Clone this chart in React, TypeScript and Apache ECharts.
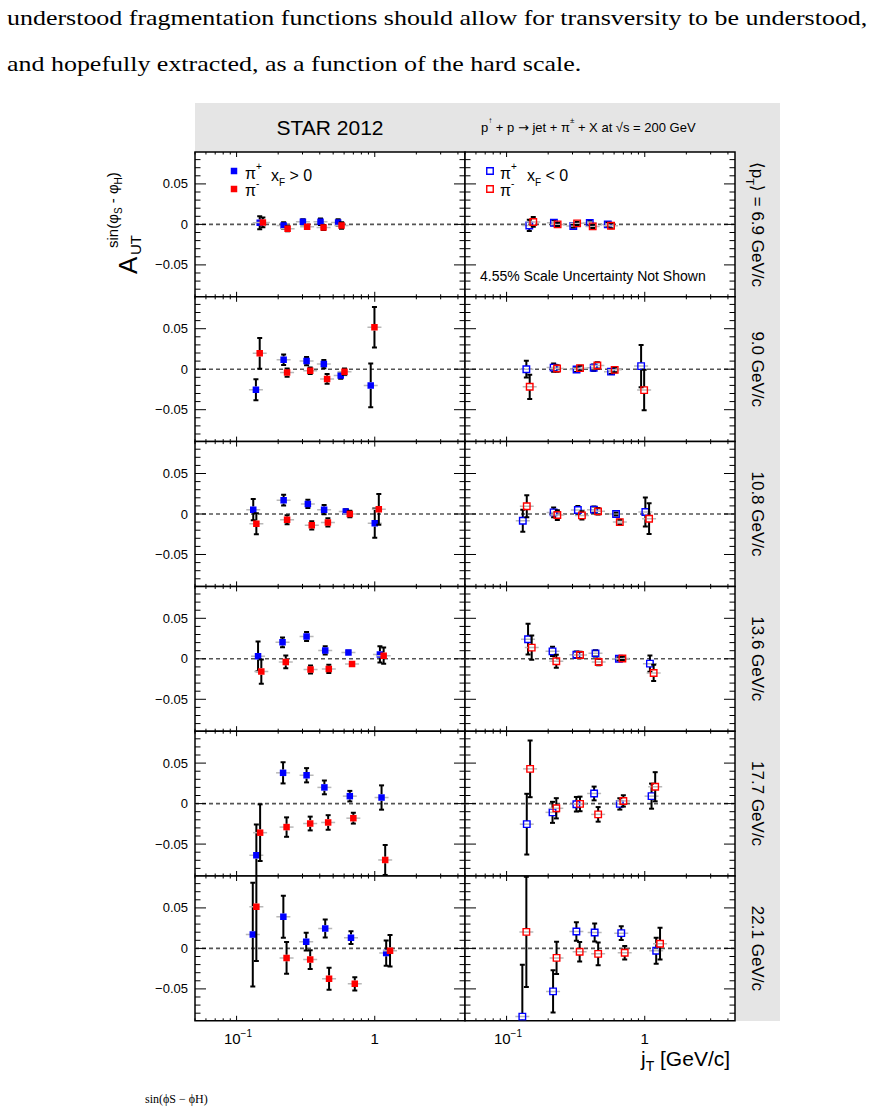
import React, { useEffect, useRef } from "react";
import * as echarts from "echarts";

// ---------------- data: [jT (GeV/c), A_UT, stat. error] ----------------
// <pT> = 6.9 GeV/c
const pos69Plus = [[0.147, 0.002, 0.008], [0.219, -0.0013, 0.004], [0.302, 0.0033, 0.003], [0.405, 0.0033, 0.004], [0.543, 0.0025, 0.004]];
const pos69Minus = [[0.155, 0.0025, 0.006], [0.234, -0.0054, 0.003], [0.324, -0.003, 0.002], [0.426, -0.0038, 0.003], [0.575, -0.0013, 0.004]];
const neg69Plus = [[0.146, -0.0013, 0.007], [0.22, 0.002, 0.003], [0.304, -0.002, 0.002], [0.4, 0.0017, 0.003], [0.54, 0.0, 0.003]];
const neg69Minus = [[0.156, 0.003, 0.006], [0.234, 0.0, 0.002], [0.324, 0.0013, 0.002], [0.42, -0.0025, 0.002], [0.57, -0.0017, 0.003]];
// <pT> = 9.0 GeV/c
const pos90Plus = [[0.138, -0.0254, 0.013], [0.219, 0.0117, 0.0065], [0.321, 0.01, 0.005], [0.428, 0.0063, 0.005], [0.567, -0.0079, 0.004], [0.935, -0.02, 0.027]];
const pos90Minus = [[0.147, 0.0196, 0.019], [0.232, -0.0042, 0.005], [0.341, -0.002, 0.004], [0.452, -0.012, 0.006], [0.604, -0.003, 0.004], [0.995, 0.0517, 0.025]];
const neg90Plus = [[0.139, 0.0, 0.0104], [0.219, 0.002, 0.005], [0.321, -0.0004, 0.003], [0.427, 0.0017, 0.004], [0.57, -0.003, 0.003], [0.941, 0.0038, 0.026]];
const neg90Minus = [[0.147, -0.0217, 0.015], [0.232, 0.0008, 0.004], [0.34, 0.0013, 0.003], [0.454, 0.0046, 0.004], [0.606, -0.0008, 0.003], [0.99, -0.0258, 0.025]];
// <pT> = 10.8 GeV/c
const pos108Plus = [[0.132, 0.0054, 0.013], [0.219, 0.0171, 0.0067], [0.328, 0.0125, 0.005], [0.43, 0.0054, 0.0056], [0.617, 0.003, 0.003], [1.0, -0.0113, 0.018]];
const pos108Minus = [[0.139, -0.012, 0.013], [0.232, -0.007, 0.0056], [0.35, -0.014, 0.005], [0.458, -0.0104, 0.005], [0.66, 0.0, 0.004], [1.07, 0.0058, 0.019]];
const neg108Plus = [[0.131, -0.0083, 0.0135], [0.219, 0.002, 0.006], [0.328, 0.005, 0.005], [0.429, 0.0054, 0.004], [0.62, 0.0, 0.002], [1.01, 0.0025, 0.018]];
const neg108Minus = [[0.14, 0.0096, 0.0135], [0.233, -0.0013, 0.006], [0.351, -0.0017, 0.005], [0.459, 0.0033, 0.004], [0.66, -0.01, 0.003], [1.075, -0.0058, 0.019]];
// <pT> = 13.6 GeV/c
const pos136Plus = [[0.143, 0.003, 0.0185], [0.215, 0.0204, 0.006], [0.321, 0.0275, 0.0055], [0.438, 0.0104, 0.005], [0.645, 0.0079, 0.002], [1.09, 0.0054, 0.01]];
const pos136Minus = [[0.151, -0.0158, 0.015], [0.227, -0.0038, 0.008], [0.343, -0.0133, 0.005], [0.465, -0.0125, 0.005], [0.685, -0.0063, 0.002], [1.16, 0.0038, 0.01]];
const neg136Plus = [[0.143, 0.0242, 0.019], [0.215, 0.0092, 0.0056], [0.32, 0.005, 0.004], [0.44, 0.0067, 0.004], [0.65, 0.0, 0.002], [1.09, -0.006, 0.01]];
const neg136Minus = [[0.152, 0.0138, 0.015], [0.229, -0.003, 0.008], [0.34, 0.0046, 0.004], [0.464, -0.004, 0.004], [0.689, 0.0004, 0.002], [1.16, -0.0175, 0.01]];
// <pT> = 17.7 GeV/c
const pos177Plus = [[0.139, -0.0638, 0.038], [0.217, 0.038, 0.0131], [0.321, 0.035, 0.0088], [0.432, 0.02, 0.0085], [0.66, 0.0092, 0.0065], [1.12, 0.0075, 0.015]];
const pos177Minus = [[0.148, -0.0359, 0.035], [0.23, -0.029, 0.012], [0.341, -0.0246, 0.0085], [0.46, -0.0233, 0.009], [0.7, -0.018, 0.0067], [1.19, -0.0696, 0.0185]];
const neg177Plus = [[0.14, -0.0254, 0.0375], [0.215, -0.0108, 0.013], [0.32, -0.0008, 0.009], [0.43, 0.0125, 0.0085], [0.66, -0.0004, 0.007], [1.12, 0.0092, 0.0155]];
const neg177Minus = [[0.148, 0.0429, 0.035], [0.229, -0.0058, 0.0125], [0.34, -0.0004, 0.009], [0.46, -0.0133, 0.009], [0.7, 0.0033, 0.007], [1.19, 0.0208, 0.018]];
// <pT> = 22.1 GeV/c
const pos221Plus = [[0.131, 0.0171, 0.064], [0.218, 0.039, 0.026], [0.319, 0.0083, 0.011], [0.438, 0.0246, 0.011], [0.673, 0.0133, 0.008], [1.21, -0.0058, 0.0155]];
const pos221Minus = [[0.139, 0.0513, 0.067], [0.23, -0.0117, 0.0196], [0.341, -0.0138, 0.0115], [0.467, -0.0375, 0.0135], [0.717, -0.0438, 0.0083], [1.29, -0.0029, 0.0195]];
const neg221Plus = [[0.13, -0.0842, 0.064], [0.217, -0.0531, 0.026], [0.32, 0.0208, 0.0115], [0.434, 0.0196, 0.011], [0.676, 0.0188, 0.0085], [1.21, -0.0029, 0.016]];
const neg221Minus = [[0.139, 0.0204, 0.068], [0.23, -0.0117, 0.0198], [0.338, -0.0042, 0.012], [0.46, -0.0067, 0.014], [0.716, -0.0054, 0.0083], [1.29, 0.0058, 0.0196]];

const ptBins = ["6.9", "9.0", "10.8", "13.6", "17.7", "22.1"];

// ---------------- ticks ----------------
const yMajorTicks = [-0.05, 0, 0.05];
const yTickLabels = ["\u22120.05", "0", "0.05"];
const yMinorTicks = [-0.08, -0.07, -0.06, -0.04, -0.03, -0.02, -0.01, 0.01, 0.02, 0.03, 0.04, 0.06, 0.07, 0.08];
const xMajorTicks = [0.1, 1];
const xTickBases = ["10", "1"];
const xTickExps = ["\u22121", ""];
const xMinorTicks = [0.05, 0.06, 0.07, 0.08, 0.09, 0.2, 0.3, 0.4, 0.5, 0.6, 0.7, 0.8, 0.9, 2, 3, 4];

const X_MIN = 0.05;
const X_MAX = 4.5;
const Y_MIN = -0.0894;
const Y_MAX = 0.0894;

const rows = [
  { pos: [pos69Plus, pos69Minus], neg: [neg69Plus, neg69Minus] },
  { pos: [pos90Plus, pos90Minus], neg: [neg90Plus, neg90Minus] },
  { pos: [pos108Plus, pos108Minus], neg: [neg108Plus, neg108Minus] },
  { pos: [pos136Plus, pos136Minus], neg: [neg136Plus, neg136Minus] },
  { pos: [pos177Plus, pos177Minus], neg: [neg177Plus, neg177Minus] },
  { pos: [pos221Plus, pos221Minus], neg: [neg221Plus, neg221Minus] },
];

// ---------------- style ----------------
const SANS = '"Liberation Sans", Arial, Helvetica, sans-serif';
const SERIF = '"Liberation Serif", "Times New Roman", serif';
const BLUE = "#0000ff";
const RED = "#ff0000";
const MS = 6.5;
const XERR_PX = 7;
const CAP = 2.5;
const GRID_LEFT = [195, 465];
const GRID_W = 270;
const GRID_TOP0 = 152;
const GRID_H = 144.8;

function pointRender(color: string, open: boolean) {
  return (params: any, api: any) => {
    const x = api.value(0);
    const y = api.value(1);
    const e = api.value(2);
    const c = api.coord([x, y]);
    const cx = c[0];
    const cy = c[1];
    const yt = api.coord([x, y + e])[1];
    const yb = api.coord([x, y - e])[1];
    const h = MS / 2;
    const es = { stroke: "#000", lineWidth: 2 };
    const ch: any[] = [];
    ch.push({ type: "line", shape: { x1: cx - XERR_PX, y1: cy, x2: cx + XERR_PX, y2: cy }, style: { stroke: "#b8b8b8", lineWidth: 1.5 } });
    if (yt < cy - h) ch.push({ type: "line", shape: { x1: cx, y1: yt, x2: cx, y2: cy - h }, style: es });
    if (yb > cy + h) ch.push({ type: "line", shape: { x1: cx, y1: cy + h, x2: cx, y2: yb }, style: es });
    ch.push({ type: "line", shape: { x1: cx - CAP, y1: yt, x2: cx + CAP, y2: yt }, style: es });
    ch.push({ type: "line", shape: { x1: cx - CAP, y1: yb, x2: cx + CAP, y2: yb }, style: es });
    ch.push({
      type: "rect",
      shape: { x: cx - h, y: cy - h, width: MS, height: MS },
      style: open ? { fill: "none", stroke: color, lineWidth: 1.4 } : { fill: color },
    });
    return { type: "group", children: ch };
  };
}

function frameRender(showY: boolean, showX: boolean) {
  return (params: any, api: any) => {
    const cs = params.coordSys;
    const x0 = cs.x;
    const x1 = cs.x + cs.width;
    const y0 = cs.y;
    const y1 = cs.y + cs.height;
    const ch: any[] = [];
    const ts = { stroke: "#000", lineWidth: 1 };
    const ln = (a: number, b: number, c: number, d: number) =>
      ch.push({ type: "line", shape: { x1: a, y1: b, x2: c, y2: d }, style: ts });
    const yz = api.coord([1, 0])[1];
    ch.push({ type: "line", shape: { x1: x0, y1: yz, x2: x1, y2: yz }, style: { stroke: "#555", lineWidth: 1.6, lineDash: [4, 3] } });
    yMajorTicks.forEach((v) => {
      const y = api.coord([1, v])[1];
      ln(x0, y, x0 + 11, y);
      ln(x1, y, x1 - 11, y);
    });
    yMinorTicks.forEach((v) => {
      const y = api.coord([1, v])[1];
      ln(x0, y, x0 + 5.5, y);
      ln(x1, y, x1 - 5.5, y);
    });
    xMajorTicks.forEach((v) => {
      const x = api.coord([v, 0])[0];
      ln(x, y1, x, y1 - 5);
      ln(x, y0, x, y0 + 5);
    });
    xMinorTicks.forEach((v) => {
      const x = api.coord([v, 0])[0];
      ln(x, y1, x, y1 - 2.5);
      ln(x, y0, x, y0 + 2.5);
    });
    if (showY) {
      yMajorTicks.forEach((v, i) => {
        const y = api.coord([1, v])[1];
        ch.push({
          type: "text",
          x: x0 - 7,
          y,
          style: { text: yTickLabels[i], font: `13px ${SANS}`, fill: "#000", align: "right", verticalAlign: "middle", textAlign: "right", textVerticalAlign: "middle" },
        });
      });
    }
    if (showX) {
      xMajorTicks.forEach((v, i) => {
        const x = api.coord([v, 0])[0];
        if (xTickExps[i]) {
          ch.push({
            type: "text", x: x + 4, y: y1 + 18,
            style: { text: xTickBases[i], font: `15px ${SANS}`, fill: "#000", align: "right", verticalAlign: "middle", textAlign: "right", textVerticalAlign: "middle" },
          });
          ch.push({
            type: "text", x: x + 4, y: y1 + 13,
            style: { text: xTickExps[i], font: `10px ${SANS}`, fill: "#000", align: "left", verticalAlign: "middle", textAlign: "left", textVerticalAlign: "middle" },
          });
        } else {
          ch.push({
            type: "text", x, y: y1 + 18,
            style: { text: xTickBases[i], font: `15px ${SANS}`, fill: "#000", align: "center", verticalAlign: "middle", textAlign: "center", textVerticalAlign: "middle" },
          });
        }
      });
    }
    return { type: "group", children: ch };
  };
}

function richSans(size: number) {
  return {
    n: { fontSize: size, fontFamily: SANS, lineHeight: size + 8, fill: "#000" },
    sup: { fontSize: Math.round(size * 0.65), fontFamily: SANS, verticalAlign: "top", fill: "#000" },
    sub: { fontSize: Math.round(size * 0.65), fontFamily: SANS, verticalAlign: "bottom", fill: "#000" },
  };
}

export default function App() {
  const ref = useRef<HTMLDivElement>(null);
  useEffect(() => {
    if (!ref.current) return;
    const chart = echarts.init(ref.current, null, { renderer: "svg" });
    const grids: any[] = [];
    const xAxes: any[] = [];
    const yAxes: any[] = [];
    const series: any[] = [];
    rows.forEach((row, r) => {
      [0, 1].forEach((c) => {
        const idx = r * 2 + c;
        grids.push({
          left: GRID_LEFT[c], top: GRID_TOP0 + r * GRID_H, width: GRID_W, height: GRID_H,
          show: true, backgroundColor: "#fff", borderColor: "#000", borderWidth: 1.5,
        });
        xAxes.push({ type: "log", logBase: 10, min: X_MIN, max: X_MAX, gridIndex: idx, show: false });
        yAxes.push({ type: "value", min: Y_MIN, max: Y_MAX, gridIndex: idx, show: false });
        series.push({
          type: "custom", xAxisIndex: idx, yAxisIndex: idx, data: [[1, 0]], z: 1, silent: true, clip: false,
          renderItem: frameRender(c === 0, r === rows.length - 1),
        });
        const sets = c === 0 ? row.pos : row.neg;
        sets.forEach((d, k) => {
          series.push({
            type: "custom", xAxisIndex: idx, yAxisIndex: idx, data: d, z: 2 + k, silent: true, clip: true,
            renderItem: pointRender(k === 0 ? BLUE : RED, c === 1),
          });
        });
      });
    });

    const graphics: any[] = [];
    // gray background
    graphics.push({ type: "rect", z: -100, shape: { x: 195, y: 103, width: 585, height: 918 }, style: { fill: "#e5e5e5" } });
    // prose text
    graphics.push({ type: "text", x: 7, y: 18, scaleX: 1.18, style: { text: "understood fragmentation functions should allow for transversity to be understood,", font: `22px ${SERIF}`, fill: "#000", verticalAlign: "middle", textVerticalAlign: "middle" } });
    graphics.push({ type: "text", x: 7, y: 64, scaleX: 1.18, style: { text: "and hopefully extracted, as a function of the hard scale.", font: `22px ${SERIF}`, fill: "#000", verticalAlign: "middle", textVerticalAlign: "middle" } });
    graphics.push({ type: "text", x: 145, y: 1093, style: { text: "sin(\u03d5S \u2212 \u03d5H)", font: `12px ${SERIF}`, fill: "#000", verticalAlign: "top", textVerticalAlign: "top" } });
    // headers
    graphics.push({ type: "text", x: 330, y: 127, style: { text: "STAR 2012", font: `21px ${SANS}`, fill: "#000", align: "center", verticalAlign: "middle", textAlign: "center", textVerticalAlign: "middle" } });
    graphics.push({
      type: "text", x: 481, y: 127,
      style: {
        text: "{n|p}{sup|\u2191}{n| + p }{a|\u2192}{n| jet + \u03c0}{sup|\u00b1}{n| + X at \u221as = 200 GeV}",
        rich: { ...richSans(13), a: { fontSize: 13, fontFamily: '"DejaVu Sans", sans-serif', lineHeight: 21, fill: "#000" } },
        verticalAlign: "middle", textVerticalAlign: "middle",
      },
    });
    // right strip labels
    ptBins.forEach((p, r) => {
      const txt = r === 0 ? `{n|\u27e8p}{sub|T}{n|\u27e9 = ${p} GeV/c}` : `{n|${p} GeV/c}`;
      graphics.push({
        type: "text", x: 757, y: GRID_TOP0 + (r + 0.5) * GRID_H, rotation: -Math.PI / 2,
        style: { text: txt, rich: richSans(17), align: "center", verticalAlign: "middle", textAlign: "center", textVerticalAlign: "middle" },
      });
    });
    // legends
    const leg = (x: number, y: number, color: string, open: boolean) =>
      graphics.push({
        type: "rect", shape: { x: x - MS / 2, y: y - MS / 2, width: MS, height: MS },
        style: open ? { fill: "none", stroke: color, lineWidth: 1.4 } : { fill: color },
      });
    leg(234, 171, BLUE, false);
    leg(234, 189, RED, false);
    leg(490, 171, BLUE, true);
    leg(490, 189, RED, true);
    const legTxt = (x: number, y: number, t: string) =>
      graphics.push({ type: "text", x, y, style: { text: t, rich: richSans(16), verticalAlign: "middle", textVerticalAlign: "middle" } });
    legTxt(245, 173, "{n|\u03c0}{sup|+}");
    legTxt(245, 190, "{n|\u03c0}{sup|-}");
    legTxt(271, 175, "{n|x}{sub|F}{n| > 0}");
    legTxt(500, 173, "{n|\u03c0}{sup|+}");
    legTxt(500, 190, "{n|\u03c0}{sup|-}");
    legTxt(527, 175, "{n|x}{sub|F}{n| < 0}");
    graphics.push({ type: "text", x: 480, y: 276, style: { text: "4.55% Scale Uncertainty Not Shown", font: `14px ${SANS}`, fill: "#000", verticalAlign: "middle", textVerticalAlign: "middle" } });
    // axis titles
    graphics.push({
      type: "text", x: 641, y: 1058,
      style: { text: "{n|j}{sub|T}{n| [GeV/c]}", rich: richSans(21), verticalAlign: "middle", textVerticalAlign: "middle" },
    });
    graphics.push({
      type: "group", x: 137, y: 274, rotation: Math.PI / 2,
      children: [
        { type: "text", x: 0, y: -9, style: { text: "A", font: `26px ${SANS}`, fill: "#000", verticalAlign: "middle", textVerticalAlign: "middle" } },
        { type: "text", x: 19, y: -2, style: { text: "UT", font: `15px ${SANS}`, fill: "#000", verticalAlign: "middle", textVerticalAlign: "middle" } },
        {
          type: "text", x: 26, y: -25,
          style: {
            text: "{n|sin(\u03c6}{sub|S}{n| - \u03c6}{sub|H}{n|)}",
            rich: richSans(15), verticalAlign: "middle", textVerticalAlign: "middle",
          },
        },
      ],
    });

    chart.setOption({
      animation: false,
      grid: grids,
      xAxis: xAxes,
      yAxis: yAxes,
      series,
      graphic: { elements: graphics },
    });
    return () => chart.dispose();
  }, []);
  return <div ref={ref} style={{ position: "fixed", left: 0, top: 0, width: 872, height: 1107, background: "#fff" }} />;
}
